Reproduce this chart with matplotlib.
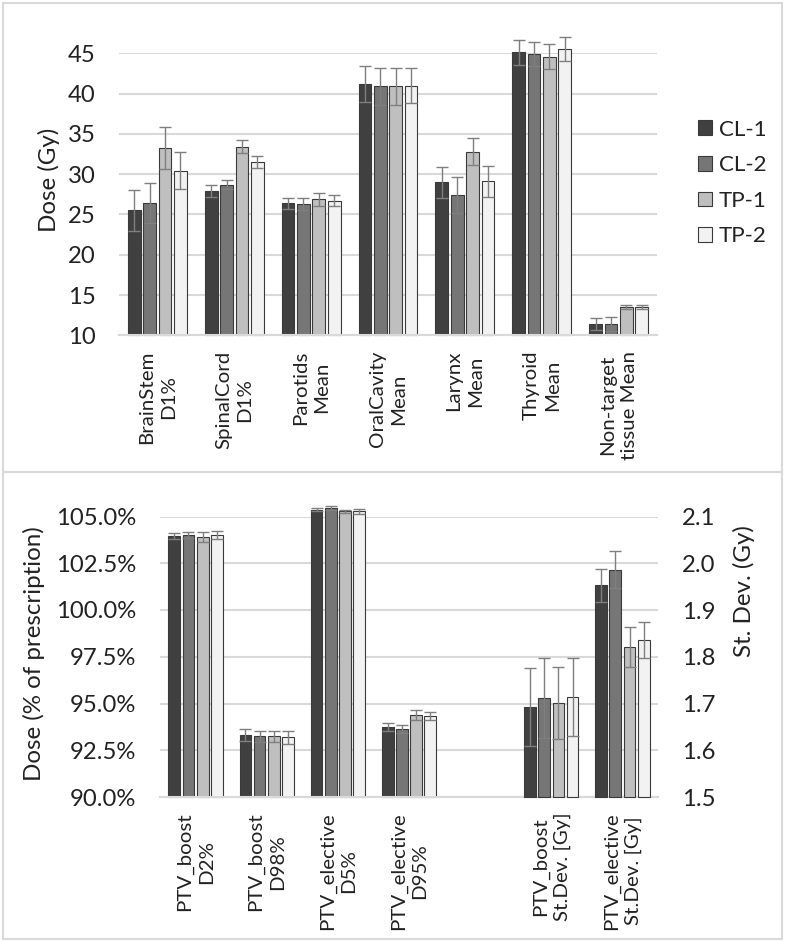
import numpy as np
import matplotlib
matplotlib.use("Agg")
import matplotlib.pyplot as plt
from matplotlib.patches import Rectangle
from matplotlib.ticker import FuncFormatter
from matplotlib.textpath import TextPath
from matplotlib.font_manager import FontProperties

plt.rcParams['font.family'] = ['Lato', 'DejaVu Sans']

# --- data ---
series = ['CL-1', 'CL-2', 'TP-1', 'TP-2']
colors = ['#404040', '#767676', '#bfbfbf', '#f2f2f2']

oar_labels = ['BrainStem\nD1%', 'SpinalCord\nD1%', 'Parotids\nMean', 'OralCavity\nMean',
              'Larynx\nMean', 'Thyroid\nMean', 'Non-target\ntissue Mean']
oar_mean = {
    'CL-1': [25.5, 27.9, 26.4, 41.2, 29.0, 45.1, 11.4],
    'CL-2': [26.4, 28.7, 26.3, 40.9, 27.4, 44.9, 11.4],
    'TP-1': [33.2, 33.4, 26.9, 40.9, 32.8, 44.6, 13.5],
    'TP-2': [30.4, 31.5, 26.7, 41.0, 29.1, 45.5, 13.5],
}
oar_err = {
    'CL-1': [2.5, 0.7, 0.7, 2.2, 1.9, 1.6, 0.7],
    'CL-2': [2.5, 0.6, 0.8, 2.3, 2.2, 1.5, 0.9],
    'TP-1': [2.6, 0.8, 0.8, 2.3, 1.7, 1.5, 0.2],
    'TP-2': [2.3, 0.7, 0.7, 2.2, 1.9, 1.5, 0.2],
}

ptv_labels = ['PTV_boost\nD2%', 'PTV_boost\nD98%', 'PTV_elective\nD5%', 'PTV_elective\nD95%']
ptv_mean = {
    'CL-1': [103.97, 93.31, 105.37, 93.75],
    'CL-2': [104.00, 93.25, 105.45, 93.63],
    'TP-1': [103.90, 93.25, 105.27, 94.40],
    'TP-2': [104.00, 93.20, 105.27, 94.34],
}
ptv_err = {
    'CL-1': [0.17, 0.30, 0.10, 0.22],
    'CL-2': [0.15, 0.30, 0.12, 0.22],
    'TP-1': [0.25, 0.30, 0.10, 0.27],
    'TP-2': [0.22, 0.35, 0.15, 0.20],
}

sd_labels = ['PTV_boost\nSt.Dev. [Gy]', 'PTV_elective\nSt.Dev. [Gy]']
sd_mean = {
    'CL-1': [1.692, 1.953],
    'CL-2': [1.712, 1.986],
    'TP-1': [1.701, 1.821],
    'TP-2': [1.714, 1.836],
}
sd_err = {
    'CL-1': [0.083, 0.035],
    'CL-2': [0.085, 0.040],
    'TP-1': [0.078, 0.043],
    'TP-2': [0.083, 0.038],
}

W, H = 787, 942
DPI = 100


def fit_size(sample, px):
    # font size (pt) so that the sample string is about px pixels long
    w = TextPath((0, 0), sample, size=10, prop=FontProperties(family='Lato')).get_extents().width
    return 10 * px / (w * DPI / 72)


fs_tick = fit_size('105.0%', 77)
fs_label = fit_size('Dose (% of prescription)', 252)
fs_cat = fit_size('BrainStem', 90)
fs_leg = fit_size('CL-1', 45)
txt = '#222222'

fig = plt.figure(figsize=(W / DPI, H / DPI), dpi=DPI)

# panel frames
for y0, y1 in [(3, 472), (472, 939)]:
    fig.patches.append(Rectangle((3 / W, 1 - y1 / H), 779 / W, (y1 - y0) / H,
                                 transform=fig.transFigure, fill=False,
                                 edgecolor='#d9d9d9', linewidth=1.5))

bw, step = 0.165, 0.2
offsets = (np.arange(4) - 1.5) * step
err_kw = dict(ecolor='#7f7f7f', elinewidth=1.0, capsize=4, capthick=1.0)


def style_axis(ax):
    for s in ['top', 'right', 'left']:
        ax.spines[s].set_visible(False)
    ax.spines['bottom'].set_color('#d9d9d9')
    ax.spines['bottom'].set_linewidth(1.5)
    ax.grid(axis='y', color='#d9d9d9', linewidth=1.5)
    ax.set_axisbelow(True)
    ax.tick_params(axis='both', length=0)


def draw_bars(ax, xs, means, errs, base):
    for i, s in enumerate(series):
        vals = np.array(means[s])
        ax.bar(xs + offsets[i], vals - base, bw, bottom=base, color=colors[i],
               edgecolor='#3a3a3a', linewidth=0.8, label=s, zorder=2, clip_on=False)
        ax.errorbar(xs + offsets[i], vals, yerr=errs[s], fmt='none',
                    zorder=3, clip_on=False, **err_kw)


# --- top panel ---
ax1 = fig.add_axes([119 / W, 1 - 335.3 / H, 538 / W, 282 / H])
x1 = np.arange(len(oar_labels))
draw_bars(ax1, x1, oar_mean, oar_err, 10)
style_axis(ax1)
ax1.set_xlim(-0.5, len(oar_labels) - 0.5)
ax1.set_ylim(10, 45)
ax1.set_yticks(np.arange(10, 46, 5))
ax1.tick_params(axis='y', labelsize=fs_tick, pad=17, labelcolor=txt)
ax1.set_xticks(x1)
ax1.set_xticklabels(oar_labels, rotation=90, fontsize=fs_cat, linespacing=1.33,
                    ha='center', va='top', multialignment='center', color=txt)
ax1.tick_params(axis='x', pad=11)
ax1.set_ylabel('Dose (Gy)', fontsize=fs_label, color=txt)
ax1.yaxis.set_label_coords(-0.11, 0.551)
ax1.legend(loc='center left', bbox_to_anchor=(687 / W, 1 - 183 / H),
           bbox_transform=fig.transFigure, frameon=False, fontsize=fs_leg,
           handlelength=0.62, handleheight=0.62, handletextpad=0.3,
           labelspacing=0.7, borderpad=0, labelcolor=txt)

# --- bottom panel ---
ax2 = fig.add_axes([160 / W, 1 - 797 / H, 498 / W, 280.5 / H])
x2 = np.arange(len(ptv_labels))
x3 = np.arange(len(sd_labels)) + 5
draw_bars(ax2, x2, ptv_mean, ptv_err, 90)
style_axis(ax2)
ax2.set_xlim(-0.5, 6.5)
ax2.set_ylim(90, 105)
ax2.set_yticks(np.arange(90, 105.1, 2.5))
ax2.yaxis.set_major_formatter(FuncFormatter(lambda v, p: f'{v:.1f}%'))
ax2.tick_params(axis='y', labelsize=fs_tick, pad=17, labelcolor=txt)
ax2.set_xticks(list(x2) + list(x3))
ax2.set_xticklabels(ptv_labels + sd_labels, rotation=90, fontsize=fs_cat, linespacing=1.33,
                    ha='center', va='top', multialignment='center', color=txt)
ax2.tick_params(axis='x', pad=11)
ax2.set_ylabel('Dose (% of prescription)', fontsize=fs_label, color=txt)
ax2.yaxis.set_label_coords(-0.231, 0.51)

ax3 = ax2.twinx()
draw_bars(ax3, x3, sd_mean, sd_err, 1.5)
ax3.set_ylim(1.5, 2.1)
ax3.set_yticks(np.round(np.arange(1.5, 2.11, 0.1), 1))
ax3.yaxis.set_major_formatter(FuncFormatter(lambda v, p: f'{v:.1f}'))
ax3.tick_params(axis='y', labelsize=fs_tick, pad=17, length=0, labelcolor=txt)
for s in ['top', 'right', 'left', 'bottom']:
    ax3.spines[s].set_visible(False)
ax3.set_ylabel('St. Dev. (Gy)', fontsize=fs_label, color=txt)
ax3.yaxis.set_label_coords(1.15, 0.734)

fig.savefig('out.png', dpi=DPI)
